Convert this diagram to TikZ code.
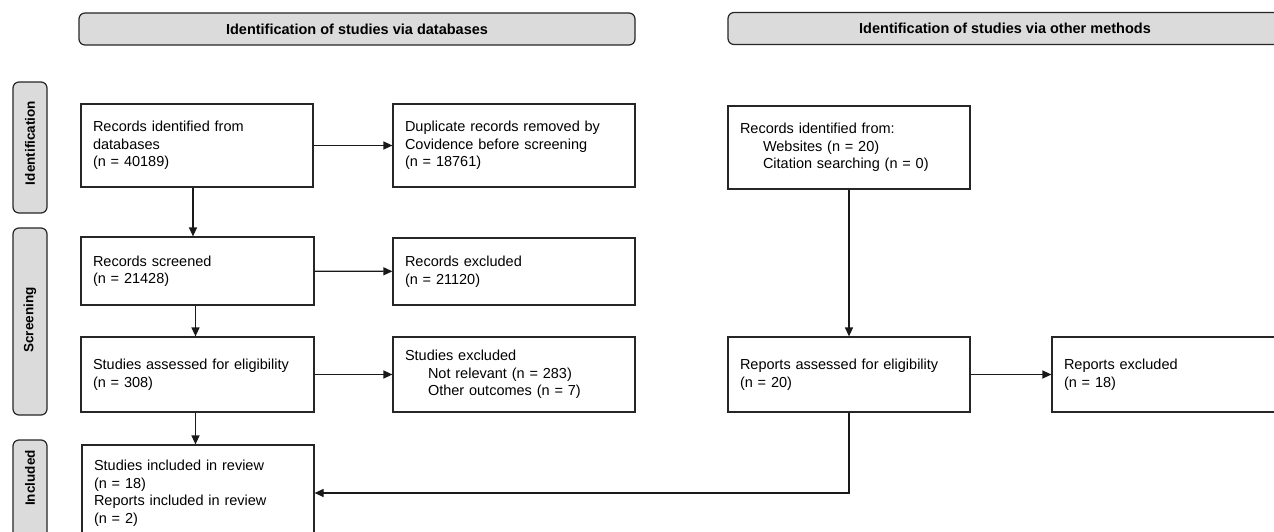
\documentclass[tikz,border=0pt]{standalone}
\usepackage{fontspec}
\setmainfont{Liberation Sans}
\usetikzlibrary{arrows.meta}
\tikzset{
  every node/.style={font=\fontsize{14.5}{17.5}\selectfont},
  box/.style={draw=black!85, line width=1.2pt, rectangle, inner xsep=12pt, inner ysep=0pt, align=left, anchor=center},
  banner/.style={draw=black!85, line width=1.2pt, rounded corners=6pt, fill=black!14, inner sep=0pt, font=\fontsize{14.5}{16}\selectfont\bfseries},
  side/.style={draw=black!85, line width=1.2pt, rounded corners=6pt, fill=black!14, inner sep=0pt},
  sidelabel/.style={rotate=90, inner sep=0pt, font=\fontsize{13.5}{15}\selectfont\bfseries},
  conn/.style={draw=black!90, line width=1.2pt},
  arr/.style={conn, -{Triangle[length=9pt,width=8pt]}}
}
\begin{document}
\begin{tikzpicture}[x=1pt,y=-1pt]
\useasboundingbox (0,0) rectangle (1274,532);
\clip (0,0) rectangle (1274,532);
\fill[white] (0,0) rectangle (1274,532);

% banners
\node[banner, minimum width=556pt, minimum height=32pt] (bl) at (357,29) {Identification of studies via databases};
\node[banner, minimum width=554pt, minimum height=32pt] (br) at (1005,28.5) {Identification of studies via other methods};

% side labels
\node[side, minimum width=34pt, minimum height=131pt] (si) at (30,147.5) {};
\node[sidelabel] (sil) at (30,143) {Identification};
\node[side, minimum width=34pt, minimum height=187pt] (ss) at (30,321.5) {};
\node[sidelabel] (ssl) at (30,320) {Screening};
\node[side, minimum width=34pt, minimum height=140pt] (sn) at (30,510) {};
\node[sidelabel] (snl) at (30,478) {Included};

% database column
\node[box, minimum width=232pt, minimum height=83pt, text width=208pt] (rid) at (197,145.5)
  {Records identified from\\databases\\(n = 40189)};
\node[box, minimum width=242pt, minimum height=83pt, text width=218pt] (dup) at (514,145.5)
  {Duplicate records removed by\\Covidence before screening\\(n = 18761)};
\node[box, minimum width=233pt, minimum height=68pt, text width=209pt] (rs) at (197.5,271)
  {Records screened\\(n = 21428)};
\node[box, minimum width=242pt, minimum height=67pt, text width=218pt] (rex) at (514,271.5)
  {Records excluded\\(n = 21120)};
\node[box, minimum width=233pt, minimum height=75pt, text width=209pt] (sa) at (197.5,374.5)
  {Studies assessed for eligibility\\(n = 308)};
\node[box, minimum width=242pt, minimum height=75pt, text width=218pt] (sex) at (514,374.5)
  {Studies excluded\\\hspace*{23pt}Not relevant (n = 283)\\\hspace*{23pt}Other outcomes (n = 7)};
\node[box, minimum width=232pt, minimum height=96pt, text width=208pt] (inc) at (198,493)
  {Studies included in review\\(n = 18)\\Reports included in review\\(n = 2)};

% other methods column
\node[box, minimum width=242pt, minimum height=83pt, text width=218pt] (orid) at (849,147.5)
  {Records identified from:\\\hspace*{23pt}Websites (n = 20)\\\hspace*{23pt}Citation searching (n = 0)};
\node[box, minimum width=242pt, minimum height=75pt, text width=218pt] (ora) at (849,374.5)
  {Reports assessed for eligibility\\(n = 20)};
\node[box, minimum width=248pt, minimum height=75pt, text width=224pt] (orex) at (1176,374.5)
  {Reports excluded\\(n = 18)};

% connectors
\draw[arr] (rid) -- (dup);
\draw[arr] ([xshift=-4pt]rid.south) -- ([xshift=-4pt]rid.south |- rs.north);
\draw[arr] (rs) -- (rex);
\draw[arr] ([xshift=-2pt]rs.south) -- ([xshift=-2pt]rs.south |- sa.north);
\draw[arr] (sa) -- (sex);
\draw[arr] ([xshift=-2pt]sa.south) -- ([xshift=-2pt]sa.south |- inc.north);
\draw[arr] (orid) -- (ora);
\draw[arr] (ora) -- (orex);
\draw[arr] (ora.south) |- (inc.east);
\end{tikzpicture}
\end{document}
